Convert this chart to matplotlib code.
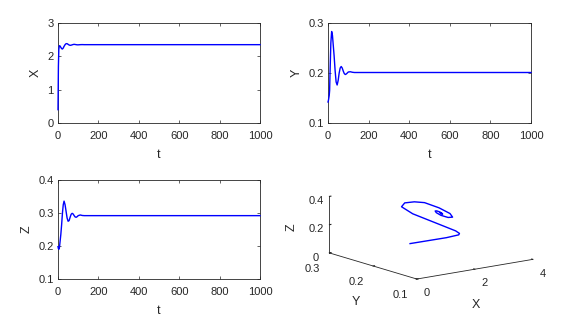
import matplotlib
matplotlib.use("Agg")
import matplotlib.pyplot as plt

plt.rcParams["font.family"] = ["Liberation Sans", "DejaVu Sans"]

# values (transient, then steady state)
T_VALUES = [0, 2, 4, 6, 8, 10, 14, 18, 22, 26, 30, 35, 40, 45, 50, 55, 60, 65,
            70, 75, 80, 85, 90, 95, 100, 110, 120, 130, 150, 200, 1000]
X_VALUES = [0.4, 1.7, 2.2, 2.3, 2.32, 2.31, 2.27, 2.23, 2.22, 2.25, 2.3, 2.35,
            2.38, 2.38, 2.36, 2.34, 2.33, 2.335, 2.345, 2.355, 2.36, 2.355,
            2.35, 2.345, 2.345, 2.35, 2.352, 2.35, 2.35, 2.35, 2.35]
Y_VALUES = [0.142, 0.145, 0.15, 0.155, 0.165, 0.2, 0.26, 0.283, 0.275, 0.255,
            0.235, 0.205, 0.182, 0.176, 0.185, 0.2, 0.21, 0.213, 0.21, 0.204,
            0.199, 0.197, 0.198, 0.2, 0.202, 0.2025, 0.2015, 0.201, 0.201,
            0.201, 0.201]
Z_VALUES = [0.198, 0.192, 0.19, 0.192, 0.2, 0.212, 0.235, 0.265, 0.3, 0.325,
            0.336, 0.325, 0.305, 0.285, 0.275, 0.277, 0.287, 0.296, 0.299,
            0.297, 0.292, 0.288, 0.287, 0.289, 0.292, 0.294, 0.2925, 0.292,
            0.292, 0.292, 0.292]

T_TICKS = [0, 200, 400, 600, 800, 1000]
X_TICKS = [0, 1, 2, 3]
Y_TICKS = [0.1, 0.2, 0.3]
Z_TICKS = [0.1, 0.2, 0.3, 0.4]

LINE_COLOR = "#0000ff"
AXIS_COLOR = "#262626"
TICK_SIZE = 8
LABEL_SIZE = 9

FIG_W, FIG_H = 569, 332


def pixel_rect(left, top, right, bottom):
    return [left / FIG_W, (FIG_H - bottom) / FIG_H,
            (right - left) / FIG_W, (bottom - top) / FIG_H]


def style_2d(ax):
    for spine in ax.spines.values():
        spine.set_linewidth(0.6)
        spine.set_color(AXIS_COLOR)
    ax.tick_params(direction="in", top=True, right=True, length=2.5,
                   width=0.5, color=AXIS_COLOR, labelcolor=AXIS_COLOR,
                   labelsize=TICK_SIZE, pad=3)
    ax.tick_params(axis="x", pad=5.5)


def time_panel(rect, values, ylim, yticks, ylabel, yfmt):
    ax = fig.add_axes(rect)
    ax.plot(T_VALUES, values, color=LINE_COLOR, linewidth=1.0, zorder=3,
            clip_on=False)
    ax.set_xlim(0, 1000)
    ax.set_ylim(*ylim)
    ax.set_xticks(T_TICKS)
    ax.set_yticks(yticks)
    ax.set_yticklabels([yfmt.format(v) for v in yticks])
    ax.set_xlabel("t", fontsize=LABEL_SIZE, color=AXIS_COLOR, labelpad=6)
    ax.set_ylabel(ylabel, fontsize=LABEL_SIZE, color=AXIS_COLOR, labelpad=4)
    style_2d(ax)
    return ax


fig = plt.figure(figsize=(FIG_W / 100, FIG_H / 100), dpi=100)

time_panel(pixel_rect(58, 23, 260, 123), X_VALUES, (0, 3), X_TICKS, "X", "{:g}")
time_panel(pixel_rect(328, 23, 531, 123), Y_VALUES, (0.1, 0.3), Y_TICKS, "Y", "{:.1f}")
time_panel(pixel_rect(58, 180, 260, 279), Z_VALUES, (0.1, 0.4), Z_TICKS, "Z", "{:.1f}")

# 3D phase portrait (3D axes are kept square, so give it a square box)
ax3 = fig.add_axes(pixel_rect(370, 170, 489, 289), projection="3d")
ax3.plot(X_VALUES, Y_VALUES, Z_VALUES, color=LINE_COLOR, linewidth=1.0)
ax3.set_proj_type("ortho")
ax3.view_init(elev=13, azim=-127)
ax3.set_box_aspect((2.5, 2.5, 1), zoom=1.74)
ax3.set_xlim(0, 4)
ax3.set_ylim(0.1, 0.3)
ax3.set_zlim(0, 0.4)
ax3.set_xticks([0, 2, 4])
ax3.set_yticks([0.1, 0.2, 0.3])
ax3.set_zticks([0, 0.2, 0.4])
ax3.set_yticklabels(["0.1", "0.2", "0.3"])
ax3.set_zticklabels(["0", "0.2", "0.4"])
ax3.grid(False)
for axis in (ax3.xaxis, ax3.yaxis, ax3.zaxis):
    axis.set_pane_color((1, 1, 1, 0))
    axis.pane.set_edgecolor((1, 1, 1, 0))
    axis.line.set_color(AXIS_COLOR)
    axis.line.set_linewidth(0.6)
    axis._axinfo["tick"]["inward_factor"] = 0.0
    axis._axinfo["tick"]["outward_factor"] = 0.15
    axis._axinfo["tick"]["color"] = AXIS_COLOR
ax3.tick_params(labelsize=TICK_SIZE, colors=AXIS_COLOR)
ax3.xaxis.set_tick_params(pad=-3)
ax3.yaxis.set_tick_params(pad=-1.5)
ax3.zaxis.set_tick_params(pad=-5)
# axis titles placed like the reference (axes fraction coordinates)
ax3.text2D(0.891, -0.134, "X", transform=ax3.transAxes, fontsize=LABEL_SIZE,
           color=AXIS_COLOR, ha="center", va="center")
ax3.text2D(-0.118, -0.107, "Y", transform=ax3.transAxes, fontsize=LABEL_SIZE,
           color=AXIS_COLOR, ha="center", va="center")
ax3.text2D(-0.658, 0.518, "Z", transform=ax3.transAxes, fontsize=LABEL_SIZE,
           color=AXIS_COLOR, ha="center", va="center", rotation=90)

fig.savefig("out.png", dpi=100)
